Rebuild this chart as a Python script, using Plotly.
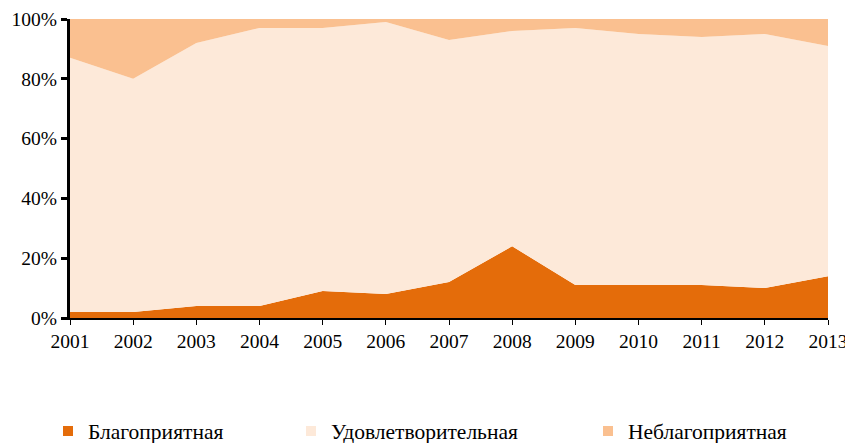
import plotly.graph_objects as go

years = [2001, 2002, 2003, 2004, 2005, 2006, 2007, 2008, 2009, 2010, 2011, 2012, 2013]
favorable = [2, 2, 4, 4, 9, 8, 12, 24, 11, 11, 11, 10, 14]
satisfactory = [85, 78, 88, 93, 88, 91, 81, 72, 86, 84, 83, 85, 77]
unfavorable = [13, 20, 8, 3, 3, 1, 7, 4, 3, 5, 6, 5, 9]
names = ["Благоприятная", "Удовлетворительная", "Неблагоприятная"]
colors = ["#E46C0A", "#FDE9D9", "#FAC090"]
series = [favorable, satisfactory, unfavorable]

font = "Liberation Serif, Times New Roman, serif"
W, H = 845, 435  # page body has an 8px margin
fig = go.Figure()
for name, vals, col in zip(names, series, colors):
    fig.add_trace(go.Scatter(
        x=years, y=vals, name=name, stackgroup="one", mode="none",
        fillcolor=col, showlegend=False, hoverinfo="x+y+name"))

legend_keys = ["legend", "legend2", "legend3"]
for name, col, lk in zip(names, colors, legend_keys):
    fig.add_trace(go.Scatter(
        x=[None], y=[None], mode="markers", name=name, legend=lk,
        marker=dict(symbol="square", size=10, color=col), showlegend=True))

leg_x = [40 / W, 283 / W, 580 / W]
legend_common = dict(orientation="h", yanchor="middle", y=1 - 423 / H,
                     xref="container", yref="container", xanchor="left",
                     font=dict(family=font, size=21.5, color="#000"),
                     bgcolor="rgba(0,0,0,0)")
fig.update_layout(
    width=W, height=H,
    margin=dict(l=62, r=25, t=11, b=125, autoexpand=False),
    plot_bgcolor="white", paper_bgcolor="white",
    font=dict(family=font, size=19, color="#000"),
    legend=dict(x=leg_x[0], **legend_common),
    legend2=dict(x=leg_x[1], **legend_common),
    legend3=dict(x=leg_x[2], **legend_common),
    xaxis=dict(range=[2001, 2013], tickmode="array", tickvals=years,
               ticktext=[str(y) for y in years], showgrid=False, zeroline=False,
               showline=True, linecolor="#000", linewidth=1.5, automargin=False,
               ticklabeloverflow="allow",
               ticks="outside", ticklen=5, tickwidth=1, tickcolor="#000",
               tickfont=dict(family=font, size=19.5, color="#000")),
    yaxis=dict(range=[0, 100], dtick=20, ticksuffix="%", showgrid=False,
               zeroline=False, showline=True, linecolor="#000", linewidth=3,
               automargin=False,
               ticks="outside", ticklen=6, tickwidth=3, tickcolor="#000",
               tickfont=dict(family=font, size=19.5, color="#000")),
)
fig.write_html("out.html")
